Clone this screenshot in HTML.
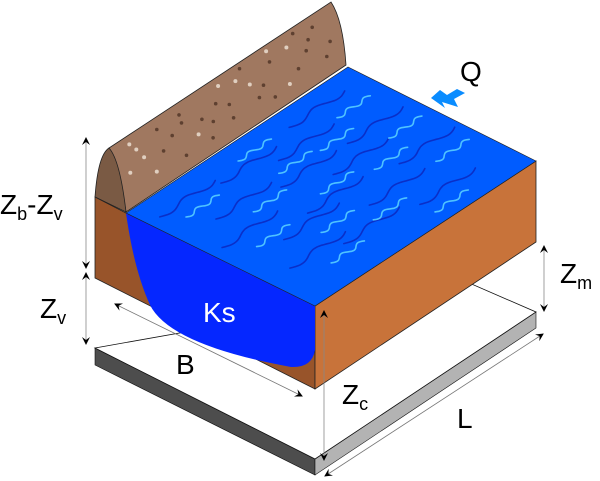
<!DOCTYPE html>
<html><head><meta charset="utf-8"><style>
html,body{margin:0;padding:0;background:#fff;}
svg{display:block;font-family:"Liberation Sans","DejaVu Sans",sans-serif;}
</style></head><body>
<svg id="s" width="600" height="481" viewBox="0 0 600 481">
<defs>
<marker id="ah" markerWidth="8" markerHeight="8" refX="7" refY="4" orient="auto-start-reverse" markerUnits="userSpaceOnUse"><path d="M0,0 L8,4 L0,8 L3,4 Z" fill="#000"/></marker>
</defs>
<g>
<polygon points="95,348 95,365 315,475 315,459" fill="#4d4d4d" stroke="#111" stroke-width="0.6"/>
<polygon points="315,459 315,475 536,328 536,312" fill="#b3b3b3" stroke="#111" stroke-width="0.6"/>
<polygon points="95,348 467,282 536,312 315,459" fill="#fff" stroke="#111" stroke-width="0.8"/>
</g>
<g>
<path d="M109,148 L331,2 Q343,20 346,65 L126,212 Q118,160 109,148 Z" fill="#a07860" stroke="#222" stroke-width="0.8"/>
<path d="M95,197 Q98,155 109,148 Q120,160 126,212 Z" fill="#7a5a44" stroke="#222" stroke-width="0.8"/>
<g id="stones"></g>
</g>
<g>
<polygon points="95,197 126,213 315,306 315,389 95,278" fill="#98542a" stroke="#222" stroke-width="0.8"/>
<polygon points="315,306 536,161 536,242 315,389" fill="#c8733a" stroke="#222" stroke-width="0.8"/>
</g>
<path d="M126,213 L315,306 L315,350 Q312,368 291,367 Q170,345 150,305 Q134,270 126,213 Z" fill="#0527ff"/>
<polygon points="126,213 348,67 536,161 315,306" fill="#005cff" stroke="#222" stroke-width="0.6"/>
<g id="ripples" fill="none" stroke-width="1.6" stroke-linecap="round"></g>
<g stroke="#777" stroke-width="0.8" fill="none">
<line x1="86" y1="138" x2="86" y2="268" stroke="#888" marker-start="url(#ah)" marker-end="url(#ah)"/>
<line x1="86" y1="273" x2="86" y2="344" stroke="#888" marker-start="url(#ah)" marker-end="url(#ah)"/>
<line x1="544" y1="246" x2="544" y2="311" stroke="#888" marker-start="url(#ah)" marker-end="url(#ah)"/>
<line x1="324" y1="311" x2="324" y2="460" stroke="#888" marker-start="url(#ah)" marker-end="url(#ah)"/>
<line x1="115" y1="304" x2="302" y2="396" marker-start="url(#ah)" marker-end="url(#ah)"/>
<line x1="543" y1="334" x2="325" y2="476" marker-start="url(#ah)" marker-end="url(#ah)"/>
</g>
<path d="M465,93 L457,89 L447,95 L440,90 L431,98 L445,108 L442,102 L458,107 L454,99 Z" fill="#0a8cff"/>
<g font-size="28" fill="#000">
<text x="0" y="214">Z<tspan font-size="18" dy="6">b</tspan><tspan dy="-6">-Z</tspan><tspan font-size="18" dy="6">v</tspan></text>
<text x="40" y="318">Z<tspan font-size="18" dy="6">v</tspan></text>
<text x="560" y="283">Z<tspan font-size="18" dy="6">m</tspan></text>
<text x="342" y="404">Z<tspan font-size="18" dy="6">c</tspan></text>
<text x="176" y="374">B</text>
<text x="457" y="428">L</text>
<text x="460" y="81">Q</text>
<text x="203" y="322" fill="#fff">Ks</text>
</g>
</svg>
<script>
var NS='http://www.w3.org/2000/svg';
var L=[126,213],A=[222,-146],B=[189,93];
var dark=[[0.05,0.12],[0.15,0.3],[0.05,0.45],[0.2,0.6],[0.1,0.75],[0.3,0.15],[0.4,0.35],[0.35,0.55],[0.3,0.8],[0.5,0.22],[0.55,0.45],[0.5,0.7],[0.65,0.1],[0.7,0.35],[0.72,0.6],[0.6,0.85]];
var light=[[0.1,0.2],[0.25,0.38],[0.12,0.55],[0.3,0.68],[0.2,0.85],[0.42,0.1],[0.45,0.28],[0.45,0.5],[0.45,0.78],[0.62,0.3],[0.65,0.55],[0.6,0.93],[0.78,0.2],[0.8,0.45],[0.8,0.7]];
var g=document.getElementById('ripples');
function wave(u,v,col,len,amp,cyc){
  var d='';var n=30;
  var bl=Math.hypot(B[0],B[1]);
  for(var i=0;i<=n;i++){
    var t=i/n;var uu=u+t*len;
    var off=amp*Math.sin(t*Math.PI*2*cyc)/bl;
    var x=L[0]+uu*A[0]+(v+off)*B[0],y=L[1]+uu*A[1]+(v+off)*B[1];
    d+=(i?'L':'M')+x.toFixed(1)+','+y.toFixed(1);
  }
  var p=document.createElementNS(NS,'path');
  p.setAttribute('d',d);p.setAttribute('stroke',col);
  
  
  g.appendChild(p);
}
dark.forEach(function(q){wave(q[0],q[1],'#0a2fc8',0.25,3.5,1.5);});
light.forEach(function(q){wave(q[0],q[1],'#4fc3ff',0.15,2.5,2);});
var st=document.getElementById('stones');
var spots=[[0.1,0.3],[0.2,0.6],[0.3,0.2],[0.35,0.7],[0.45,0.4],[0.5,0.8],[0.55,0.25],[0.65,0.6],[0.7,0.3],[0.75,0.85],[0.85,0.5],[0.9,0.2],[0.15,0.85],[0.25,0.45],[0.4,0.9],[0.6,0.45],[0.8,0.7],[0.95,0.6],[0.05,0.6],[0.5,0.55],[0.3,0.35],[0.7,0.1],[0.87,0.35],[0.2,0.2],[0.12,0.5],[0.38,0.5],[0.62,0.75],[0.78,0.25],[0.92,0.8],[0.28,0.9],[0.48,0.15],[0.68,0.9],[0.82,0.1],[0.08,0.15],[0.58,0.1],[0.42,0.65]];
spots.forEach(function(s,i){
  var x=109+s[0]*222+s[1]*17, y=148-s[0]*146+s[1]*63*0.85;
  var c=document.createElementNS(NS,'circle');
  c.setAttribute('cx',x.toFixed(1));c.setAttribute('cy',y.toFixed(1));
  c.setAttribute('r',i%3==0?2:1.8);
  c.setAttribute('fill',i%3==0?'#e0cfc0':'#5e4030');
  
  
  st.appendChild(c);
});
</script>
</body></html>
